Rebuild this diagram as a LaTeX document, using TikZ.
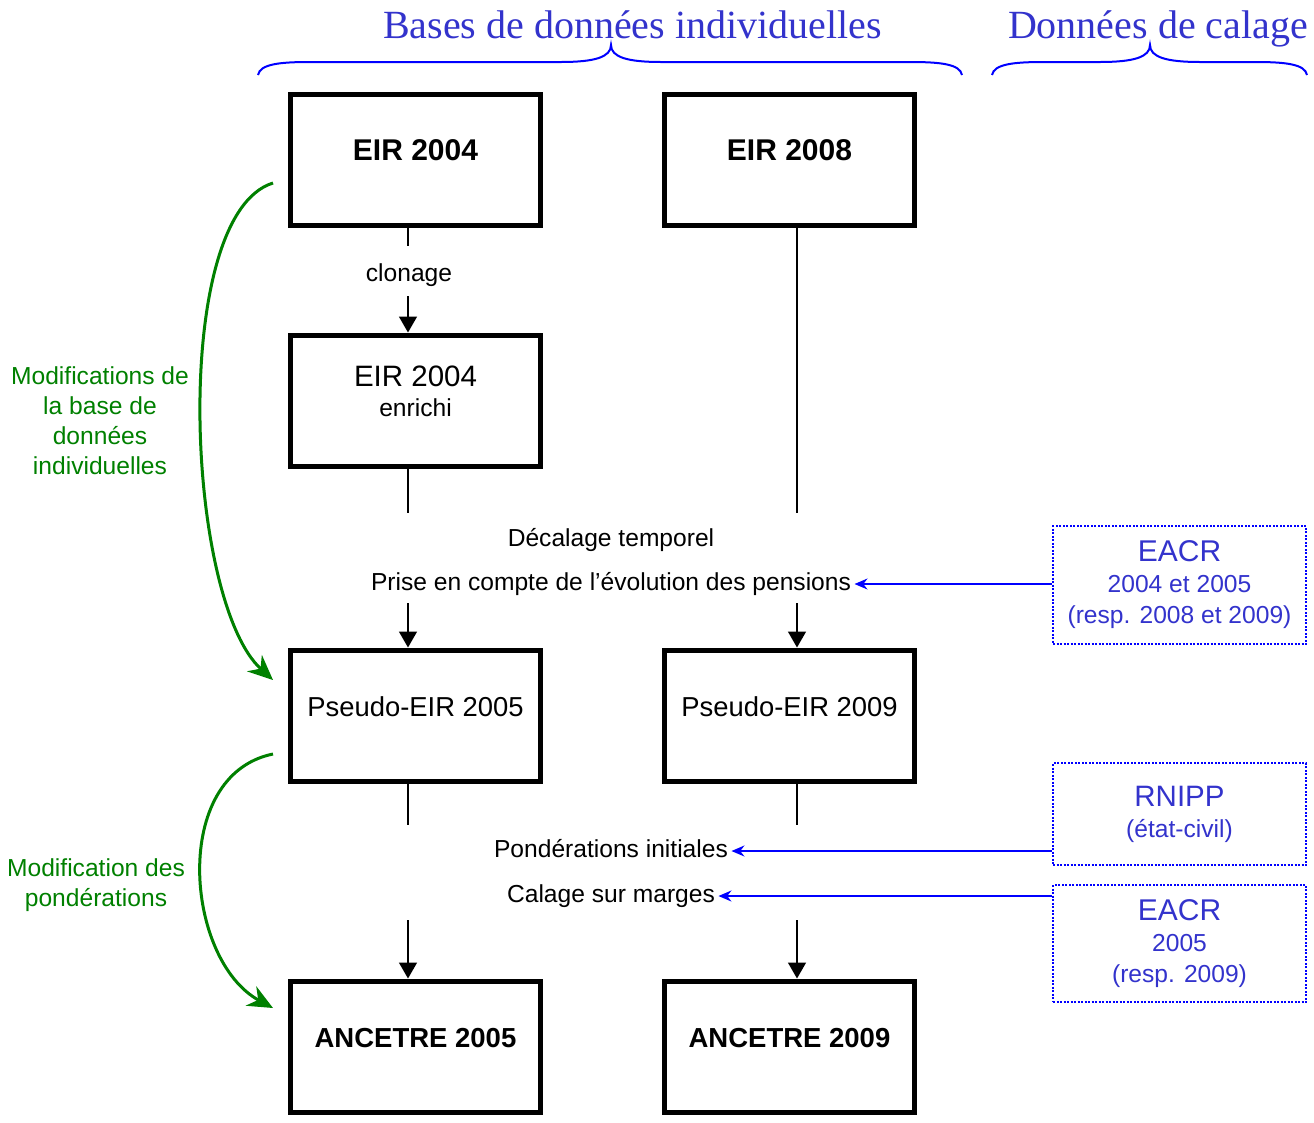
\documentclass[tikz,border=0pt]{standalone}
\usepackage{fontspec}
\setmainfont{Liberation Sans}
\newfontfamily\titlefont{Liberation Serif}
\usetikzlibrary{arrows.meta}

\definecolor{txtblue}{RGB}{51,51,204}
\definecolor{modgreen}{RGB}{0,128,0}

% accolade de titre : gauche, pointe, droite
\newcommand{\headbrace}[3]{\draw[blue, line width=2pt] (#1,75) .. controls (#1+2,64) and (#1+22,62) .. (#1+52,62) -- (#2-50,62) .. controls (#2-16,62) and (#2,57) .. (#2,45) .. controls (#2,57) and (#2+16,62) .. (#2+50,62) -- (#3-52,62) .. controls (#3-22,62) and (#3-2,64) .. (#3,75);}

\begin{document}
\begin{tikzpicture}[x=1pt, y=-1pt,
  box/.style={draw, line width=5pt, minimum width=250pt, minimum height=131pt, inner sep=0pt, text height=20pt, text depth=19pt},
  mainbox/.style={box, font=\bfseries\fontsize{30}{34}\selectfont},
  databox/.style={draw=blue, line width=2pt, dash pattern=on 2pt off 1.5pt, minimum width=253pt, align=center, text=txtblue, font=\fontsize{24.6}{31}\selectfont},
  link/.style={line width=1.5pt},
  arr/.style={link, -{Triangle[length=16pt,width=18pt]}},
  feed/.style={blue, line width=1.5pt, -{Stealth[length=13pt,width=11pt]}},
  modif/.style={modgreen, line width=3pt, -{Stealth[length=25pt,width=22pt]}},
  midtext/.style={font=\fontsize{24.6}{28}\selectfont, text height=17pt, text depth=5pt},
  modtext/.style={text=modgreen, align=center, font=\fontsize{24.6}{30}\selectfont},
  headtext/.style={text=txtblue, font=\titlefont\fontsize{40}{44}\selectfont, text height=28pt, text depth=0pt}]
\useasboundingbox (0,0) rectangle (1314,1122);

% titres
\node[headtext] (tbase) at (632.5,24) {Bases de données individuelles};
\node[headtext] (tcal) at (1158,24) {Données de calage};
\headbrace{258}{611}{962}
\headbrace{992}{1150}{1307}

% bases
\node[mainbox] (eir04) at (415.5,160) {EIR 2004};
\node[mainbox] (eir08) at (789.5,160) {EIR 2008};
\node[box, align=center, text height=40pt, text depth=9pt, font=\fontsize{24.6}{30}\selectfont] (enr) at (415.5,400.5) {{\fontsize{29.5}{30}\selectfont EIR 2004}\\enrichi};
\node[box, font=\fontsize{27.4}{32}\selectfont] (ps05) at (415.5,715.5) {Pseudo-EIR 2005};
\node[box, font=\fontsize{27.4}{32}\selectfont] (ps09) at (789.5,715.5) {Pseudo-EIR 2009};
\node[box, font=\bfseries\fontsize{27.5}{32}\selectfont] (an05) at (415.5,1046.5) {ANCETRE 2005};
\node[box, font=\bfseries\fontsize{27.5}{32}\selectfont] (an09) at (789.5,1046.5) {ANCETRE 2009};

% etapes
\node[midtext] (clon) at (409,275) {clonage};
\node[midtext] (decal) at (611,540) {Décalage temporel};
\node[midtext] (prise) at (611,584) {Prise en compte de l’évolution des pensions};
\node[midtext] (pond) at (611,851) {Pondérations initiales};
\node[midtext] (calage) at (611,896) {Calage sur marges};

\coordinate (lA) at (408,246); \coordinate (lB) at (408,296);
\coordinate (lC) at (408,513); \coordinate (lD) at (797,513);
\coordinate (lE) at (408,603); \coordinate (lF) at (797,603);
\coordinate (lG) at (408,825); \coordinate (lH) at (797,825);
\coordinate (lI) at (408,920); \coordinate (lJ) at (797,920);
\foreach \b/\c in {eir04/lA, enr/lC, eir08/lD, ps05/lG, ps09/lH} \draw[link] (\b.south -| \c) -- (\c);
\foreach \c/\b in {lB/enr, lE/ps05, lF/ps09, lI/an05, lJ/an09} \draw[arr] (\c) -- (\b.north -| \c);

% donnees de calage
\node[databox, minimum height=118pt] (eacrA) at (1179.5,585) {{\fontsize{30}{31}\selectfont EACR}\\2004 et 2005\\(resp. 2008 et 2009)};
\node[databox, minimum height=102pt] (rnipp) at (1179.5,814) {{\fontsize{29.5}{31}\selectfont RNIPP}\\(état-civil)};
\node[databox, minimum height=117pt] (eacrB) at (1179.5,943.5) {{\fontsize{30}{31}\selectfont EACR}\\2005\\(resp. 2009)};
\draw[feed] (eacrA.west |- prise.east) -- (prise.east);
\draw[feed] (rnipp.west |- pond.east) -- (pond.east);
\draw[feed] (eacrB.west |- calage.east) -- (calage.east);

% modifications
\node[modtext] (modA) at (100,421) {Modifications de\\la base de\\données\\individuelles};
\node[modtext] (modB) at (96,885) {Modification des\\pondérations};
\coordinate (gA) at (273,183); \coordinate (gB) at (273,680);
\coordinate (gC) at (273,754); \coordinate (gD) at (273,1008);
\draw[modif] (gA) .. controls (170,215) and (185,600) .. (gB);
\draw[modif] (gC) .. controls (170,775) and (185,960) .. (gD);
\end{tikzpicture}
\end{document}
